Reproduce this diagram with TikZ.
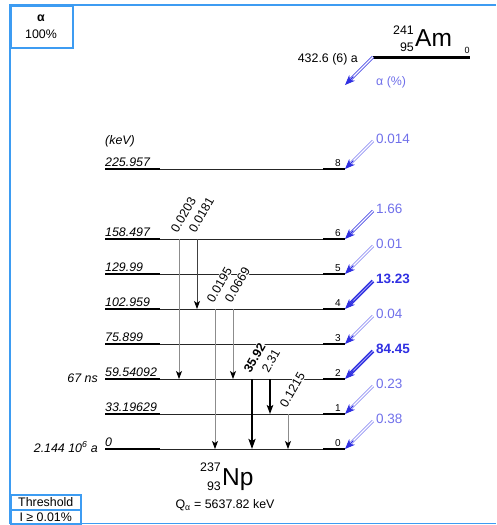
\documentclass[tikz,border=0pt]{standalone}
\usepackage{fontspec}
\setmainfont{Liberation Sans}
\usetikzlibrary{arrows.meta,calc}
\definecolor{frameblue}{HTML}{3D9CF2}
\definecolor{adark}{HTML}{3030E2}
\definecolor{aweak}{HTML}{9494F4}
\definecolor{atext}{HTML}{7070EA}
\begin{document}
\begin{tikzpicture}[x=1pt,y=-1pt,
  frame/.style={draw=frameblue,line width=1.5pt},
  lvlthick/.style={line width=2pt,draw=black},
  lvlthin/.style={line width=1pt,draw=black!85},
  elabel/.style={font=\fontsize{12.4}{14}\selectfont\itshape,anchor=base west,inner sep=0pt},
  ilabel/.style={font=\fontsize{10}{12}\selectfont,anchor=base east,inner sep=0pt},
  txt/.style={font=\fontsize{12.4}{14}\selectfont,inner sep=0pt},
  aw/.style={draw=aweak,line width=0.8pt,double=white,double distance=1.3pt,shorten >=5pt},
  am/.style={draw=adark!85!white,line width=0.9pt,double=white,double distance=1.1pt,shorten >=5pt},
  as/.style={draw=adark,line width=1.3pt,double=adark!45!white,double distance=1pt,shorten >=5pt},
  atip/.style={draw=adark,line width=0.8pt,-{Stealth[length=10pt,width=8pt,inset=3pt,color=adark]}},
  lw/.style={txt,font=\fontsize{13.5}{15}\selectfont,text=atext,anchor=west},
  ls/.style={txt,font=\fontsize{13.5}{15}\selectfont\bfseries,text=adark,anchor=west},
  gw/.style={line width=0.9pt,draw=black!45,-{Stealth[length=8pt,width=6pt,inset=2pt,color=black]}},
  gd/.style={line width=0.9pt,draw=black!75,-{Stealth[length=8pt,width=6pt,inset=2pt,color=black]}},
  gm/.style={line width=1.5pt,draw=black,-{Stealth[length=9pt,width=6.5pt,inset=2pt]}},
  gs/.style={line width=2pt,draw=black,-{Stealth[length=10pt,width=7pt,inset=2pt]}},
  glab/.style={txt,rotate=60,anchor=base west,fill=white,inner sep=0.8pt},
  glabb/.style={glab,font=\fontsize{12.4}{14}\selectfont\bfseries}]
\useasboundingbox (0,0) rectangle (496,525);
% frame
\draw[frame] (496,5) -- (10,5) -- (10,523.5) -- (496,523.5);
\node[draw=frameblue,line width=1.5pt,minimum width=62pt,minimum height=42pt,anchor=north west,inner sep=0pt] (abox) at (10,5) {};
\node[txt,font=\fontsize{12.4}{14}\selectfont\bfseries] (atitle) at (41,18) {α};
\node[txt] (apct) at (41,34) {100\%};
\node[draw=frameblue,line width=1.5pt,minimum width=70pt,minimum height=15pt,anchor=north west,inner sep=0pt,txt] (thr) at (10,494) {Threshold};
\node[draw=frameblue,line width=1.5pt,minimum width=70pt,minimum height=15pt,anchor=north west,inner sep=0pt,txt] (thv) at (10,509) {I ≥ 0.01\%};
% parent
\coordinate (P0a) at (373,57);
\coordinate (P0b) at (470,57);
\draw[line width=3pt] (P0a) -- (P0b);
\node[txt,anchor=base east] (hl) at (358,62) {432.6 (6) a};
\node[txt,font=\fontsize{24.5}{26}\selectfont,anchor=base west] (am) at (415,46) {Am};
\node[txt,anchor=east] (amA) at (414,30) {241};
\node[txt,anchor=east] (amZ) at (414,47) {95};
\node[txt,font=\fontsize{9}{10}\selectfont] (am0) at (467,50) {0};
\coordinate (P0t) at (345,85);
\draw[am] (P0a) -- (P0t);
\draw[atip] ($(P0a)!0.7!(P0t)$) -- (P0t);
\node[txt,text=atext,anchor=west] (apl) at (376,82) {α (\%)};
% daughter levels
\node[elabel] (kev) at (105,144) {(keV)};
\foreach \n/\y/\e in {8/169/225.957,6/239/158.497,5/274/129.99,4/309/102.959,3/344/75.899,2/379/59.54092,1/414/33.19629,0/449/0} {
  \coordinate (L\n a) at (105,\y);
  \coordinate (L\n b) at (160,\y);
  \coordinate (L\n c) at (323,\y);
  \coordinate (L\n d) at (345,\y);
  \draw[lvlthick] (L\n a) -- (L\n b);
  \draw[lvlthin] (L\n b) -- (L\n c);
  \draw[lvlthick] (L\n c) -- (L\n d);
  \node[elabel] (E\n) at ([shift={(0,-3)}]L\n a) {\e};
  \node[ilabel] (I\n) at ([shift={(-4,-3)}]L\n d) {\n};
}
\node[elabel,anchor=base east] (hl2) at ([shift={(-7,3)}]L2a) {67 ns};
\node[elabel,anchor=base east] (hl0) at ([shift={(-7,3)}]L0a) {2.144 10\textsuperscript{6} a};
% alpha feeding
\foreach \n/\v/\s/\l in {8/0.014/aw/lw,6/1.66/am/lw,5/0.01/aw/lw,4/13.23/as/ls,3/0.04/aw/lw,2/84.45/as/ls,1/0.23/aw/lw,0/0.38/aw/lw} {
  \coordinate (A\n) at ([shift={(28,-28)}]L\n d);
  \draw[\s] (A\n) -- (L\n d);
  \draw[atip] ($(A\n)!0.7!(L\n d)$) -- (L\n d);
  \node[\l] (V\n) at ([shift={(31,-30)}]L\n d) {\v};
}
% gamma transitions
\foreach \i/\x/\f/\t/\v/\s/\ls in {1/179/6/2/0.0203/gw/glab,2/197/6/4/0.0181/gd/glab,3/215/4/0/0.0195/gw/glab,4/233/4/2/0.0669/gw/glab,5/252/2/0/35.92/gs/glabb,6/270/2/1/2.31/gm/glab,7/288/1/0/0.1215/gw/glab} {
  \coordinate (G\i s) at (L\f a -| \x,0);
  \coordinate (G\i e) at (L\t a -| \x,0);
  \draw[\s] (G\i s) -- (G\i e);
  \node[\ls] (GL\i) at ([shift={(-2,-5)}]G\i s) {\v};
}
% daughter name
\node[txt,font=\fontsize{24.5}{26}\selectfont,anchor=base west] (np) at (222,485) {Np};
\node[txt,anchor=east] (npA) at (221,467) {237};
\node[txt,anchor=east] (npZ) at (221,486) {93};
\node[txt] (q) at (225,505) {Q\textsubscript{α} = 5637.82 keV};
\end{tikzpicture}
\end{document}
